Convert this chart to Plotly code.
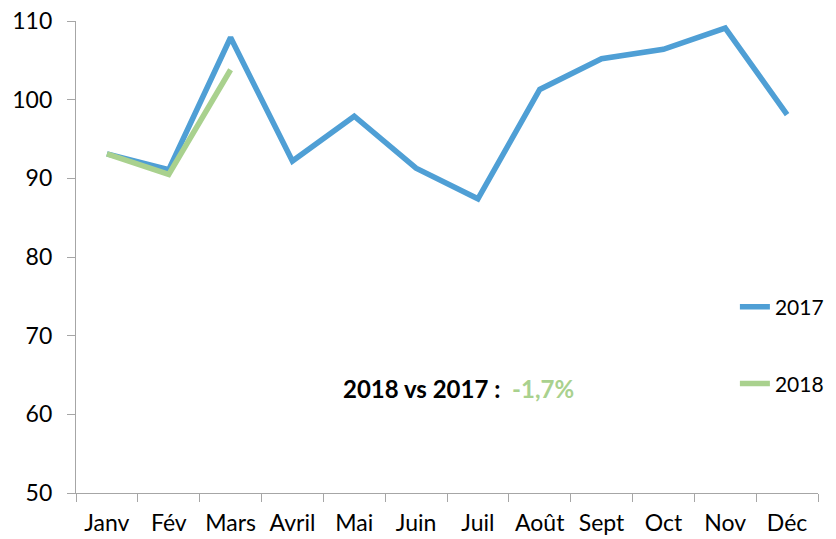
import plotly.graph_objects as go

months = ["Janv", "Fév", "Mars", "Avril", "Mai", "Juin", "Juil", "Août", "Sept", "Oct", "Nov", "Déc"]
values_2017 = [93.1, 91.1, 107.9, 92.2, 97.9, 91.3, 87.4, 101.3, 105.2, 106.4, 109.1, 98.1]
months_2018 = ["Janv", "Fév", "Mars"]
values_2018 = [93.1, 90.5, 103.8]
y_ticks = [50, 60, 70, 80, 90, 100, 110]

blue = "#4F9FD5"
green = "#A9D18E"
font_family = "Lato, 'Open Sans', sans-serif"

fig = go.Figure()
fig.add_trace(go.Scatter(x=months, y=values_2017, mode="lines", name="2017",
                         line=dict(color=blue, width=5.5), legend="legend"))
fig.add_trace(go.Scatter(x=months_2018, y=values_2018, mode="lines", name="2018",
                         line=dict(color=green, width=5.5), legend="legend2"))

# page body has an 8px margin, so the figure is sized to fit the window
fig.update_layout(
    width=828, height=531,
    margin=dict(l=68, r=7, t=13, b=46),
    plot_bgcolor="white", paper_bgcolor="white",
    font=dict(family=font_family, size=23, color="black"),
    showlegend=True,
    legend=dict(x=0.888, y=0.394, xanchor="left", yanchor="middle",
                bgcolor="rgba(0,0,0,0)", font=dict(size=21)),
    legend2=dict(x=0.888, y=0.231, xanchor="left", yanchor="middle",
                 bgcolor="rgba(0,0,0,0)", font=dict(size=21)),
    annotations=[dict(
        x=0.516, y=0.186, xref="paper", yref="paper", showarrow=False,
        text="<b>2018 vs 2017 :  </b><span style='color:" + green + "'><b>-1,7%</b></span>",
        font=dict(size=24, family=font_family, color="black"),
    )],
)
fig.update_xaxes(
    type="category", categoryorder="array", categoryarray=months,
    showgrid=False, showline=True, linecolor="#A6A6A6", linewidth=1.3,
    ticks="outside", tickson="boundaries", ticklen=8, tickcolor="#A6A6A6",
    range=[-0.5, 11.5], tickfont=dict(size=23), automargin=False,
    ticklabelstandoff=9, tickangle=0, ticklabeloverflow="allow",
)
fig.update_yaxes(
    range=[50, 110], tickvals=y_ticks, showgrid=False, zeroline=False,
    showline=True, linecolor="#A6A6A6", linewidth=1.3,
    ticks="outside", ticklen=8, tickcolor="#A6A6A6", tickfont=dict(size=23),
    automargin=False, ticklabelstandoff=10, ticklabeloverflow="allow",
)

fig.write_html("out.html")
